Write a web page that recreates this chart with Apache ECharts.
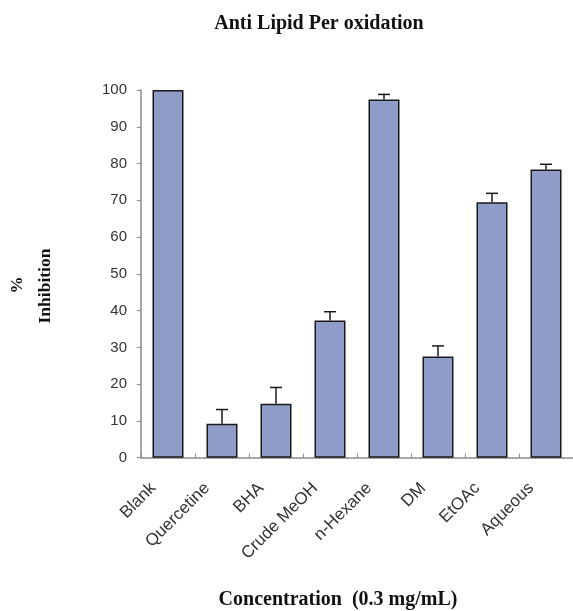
<!DOCTYPE html>
<html>
<head>
<meta charset="utf-8">
<script src="https://cdn.jsdelivr.net/npm/echarts@6/dist/echarts.min.js"></script>
<style>
  html, body { margin: 0; padding: 0; background: #fff; }
  #chart { width: 573px; height: 611px; }
</style>
</head>
<body>
<div id="chart"></div>
<script>
// Extract fractions and their inhibition of lipid peroxidation
const categories = ['Blank', 'Quercetine', 'BHA', 'Crude MeOH', 'n-Hexane', 'DM', 'EtOAc', 'Aqueous'];
const inhibition = [100, 9.2, 14.7, 37.3, 97.4, 27.5, 69.5, 78.4];
const errors = [0, 3.9, 4.4, 2.4, 1.4, 2.9, 2.4, 1.4];
const yTicks = [0, 10, 20, 30, 40, 50, 60, 70, 80, 90, 100];

const chart = echarts.init(document.getElementById('chart'), null, { renderer: 'canvas' });

const errorData = categories.map((c, i) => [i, inhibition[i], errors[i]]);

const serif = '"Liberation Serif", "Times New Roman", serif';
const sans = '"Liberation Sans", Arial, sans-serif';

chart.setOption({
  backgroundColor: '#ffffff',
  animation: false,
  title: {
    text: 'Anti Lipid Per oxidation',
    left: 314,
    textAlign: 'center',
    top: 9,
    textStyle: { fontFamily: serif, fontWeight: 'bold', fontSize: 20, color: '#111' }
  },
  graphic: [
    {
      type: 'text', x: 18, y: 285, rotation: Math.PI / 2,
      style: { text: '%', font: 'bold 17px ' + serif, fill: '#111', align: 'center', verticalAlign: 'middle' }
    },
    {
      type: 'text', x: 45, y: 286, rotation: Math.PI / 2,
      style: { text: 'Inhibition', font: 'bold 17.5px ' + serif, fill: '#111', align: 'center', verticalAlign: 'middle' }
    },
    {
      type: 'text', x: 338, y: 600,
      style: { text: 'Concentration  (0.3 mg/mL)', font: 'bold 20px ' + serif, fill: '#111', align: 'center', verticalAlign: 'middle' }
    }
  ],
  grid: { left: 141, top: 90, bottom: 153.3, right: -10.4, containLabel: false },
  xAxis: {
    type: 'category',
    data: categories,
    boundaryGap: true,
    axisLine: { show: true, lineStyle: { color: '#8a8a8a', width: 1.5 } },
    axisTick: { show: true, inside: true, length: 4, lineStyle: { color: '#8a8a8a' } },
    axisLabel: {
      interval: 0, rotate: 45, margin: 13,
      padding: [0, 21, 0, 0],
      fontFamily: sans, fontSize: 17, color: '#333'
    },
    splitLine: { show: false }
  },
  yAxis: {
    type: 'value',
    min: yTicks[0],
    max: yTicks[yTicks.length - 1],
    interval: 10,
    axisLine: { show: true, lineStyle: { color: '#8a8a8a', width: 1.5 } },
    axisTick: { show: true, inside: false, length: 4, lineStyle: { color: '#8a8a8a' } },
    axisLabel: { margin: 14, fontFamily: sans, fontSize: 15, color: '#333' },
    splitLine: { show: false }
  },
  series: [
    {
      type: 'bar',
      data: inhibition,
      barWidth: 31,
      itemStyle: { color: '#8f9cc8', borderColor: '#1a1a1a', borderWidth: 1.5 },
      z: 2
    },
    {
      type: 'custom',
      data: errorData,
      z: 3,
      renderItem: function (params, api) {
        const err = api.value(2);
        if (!err) return null;
        const base = api.coord([api.value(0), api.value(1)]);
        const top = api.coord([api.value(0), api.value(1) + err]);
        const half = 6;
        const style = { stroke: '#1a1a1a', lineWidth: 1.5 };
        return {
          type: 'group',
          children: [
            { type: 'line', shape: { x1: base[0], y1: base[1], x2: top[0], y2: top[1] }, style: style },
            { type: 'line', shape: { x1: top[0] - half, y1: top[1], x2: top[0] + half, y2: top[1] }, style: style }
          ]
        };
      }
    }
  ]
});
</script>
</body>
</html>
